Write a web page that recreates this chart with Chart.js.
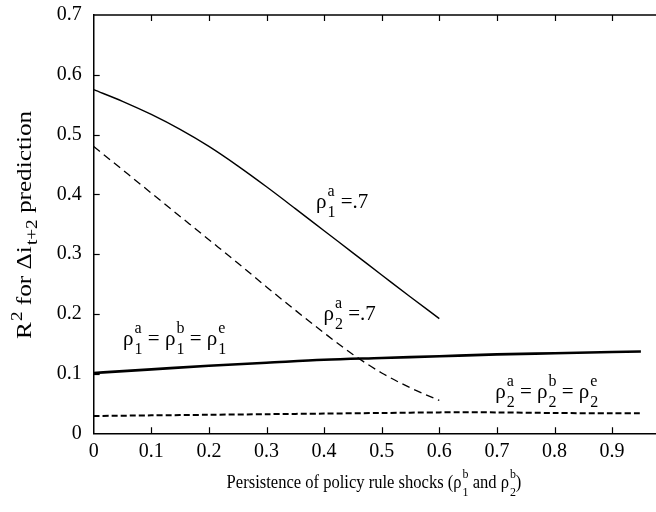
<!DOCTYPE html>
<html>
<head>
<meta charset="utf-8">
<script src="https://cdn.jsdelivr.net/npm/chart.js@4.4.0/dist/chart.umd.min.js"></script>
<style>
  html, body { margin: 0; padding: 0; background: #fff; overflow: hidden; }
  #wrap { width: 680px; height: 512px; }
</style>
</head>
<body>
<div id="wrap"><canvas id="chart" width="680" height="512"></canvas></div>
<script>
// --- data ---
const xShort = [0, 0.05, 0.1, 0.15, 0.2, 0.25, 0.3, 0.35, 0.4, 0.45, 0.5, 0.55, 0.6];
const rho1a7 = [0.575, 0.5555, 0.5335, 0.5085, 0.480, 0.4475, 0.4125, 0.376, 0.339, 0.302, 0.265, 0.228, 0.192];
const rho2a7 = [0.480, 0.441, 0.402, 0.363, 0.324, 0.285, 0.245, 0.206, 0.168, 0.132, 0.101, 0.076, 0.055];

const xLong = [0, 0.1, 0.2, 0.3, 0.4, 0.5, 0.6, 0.7, 0.8, 0.9, 0.95];
const rho1Equal = [0.101, 0.107, 0.113, 0.118, 0.123, 0.126, 0.129, 0.132, 0.134, 0.136, 0.137];
const rho2Equal = [0.029, 0.030, 0.031, 0.032, 0.033, 0.034, 0.035, 0.035, 0.034, 0.0335, 0.0335];

const xTickValues = [0, 0.1, 0.2, 0.3, 0.4, 0.5, 0.6, 0.7, 0.8, 0.9];
const yTickValues = [0, 0.1, 0.2, 0.3, 0.4, 0.5, 0.6, 0.7];

// curve labels: [base, superscript, subscript] pieces, anchored in data coords
const curveNotes = [
  { x: 0.386, y: 0.377, parts: [['ρ', 'a', '1'], [' =.7', '', '']] },
  { x: 0.399, y: 0.190, parts: [['ρ', 'a', '2'], [' =.7', '', '']] },
  { x: 0.051, y: 0.148, parts: [['ρ', 'a', '1'], [' = ', '', ''], ['ρ', 'b', '1'], [' = ', '', ''], ['ρ', 'e', '1']] },
  { x: 0.697, y: 0.059, parts: [['ρ', 'a', '2'], [' = ', '', ''], ['ρ', 'b', '2'], [' = ', '', ''], ['ρ', 'e', '2']] }
];

const FONT = '"Liberation Serif", "Times New Roman", serif';

const toPoints = (xs, ys) => xs.map((x, i) => ({ x: x, y: ys[i] }));

// draws text with stacked super/subscripts
function drawRich(ctx, parts, x, y, size, stacked) {
  const small = Math.round(size * 0.74);
  const supDy = stacked ? -size * 0.55 : -size * 0.42;
  const subDy = stacked ? size * 0.42 : size * 0.3;
  let cx = x;
  parts.forEach(p => {
    ctx.font = size + 'px ' + FONT;
    ctx.fillText(p[0], cx, y);
    cx += ctx.measureText(p[0]).width;
    ctx.font = small + 'px ' + FONT;
    let w = 0;
    if (p[1]) { ctx.fillText(p[1], cx + 1, y + supDy); w = Math.max(w, ctx.measureText(p[1]).width + 1); }
    if (p[2]) { ctx.fillText(p[2], cx + 1, y + subDy); w = Math.max(w, ctx.measureText(p[2]).width + 1); }
    cx += w;
  });
  return cx - x;
}

function richWidth(ctx, parts, size) {
  const small = Math.round(size * 0.74);
  let w = 0;
  parts.forEach(p => {
    ctx.font = size + 'px ' + FONT;
    w += ctx.measureText(p[0]).width;
    ctx.font = small + 'px ' + FONT;
    let s = 0;
    if (p[1]) s = Math.max(s, ctx.measureText(p[1]).width + 1);
    if (p[2]) s = Math.max(s, ctx.measureText(p[2]).width + 1);
    w += s;
  });
  return w;
}

// inner ticks, top frame, curve labels and axis titles
const decorations = {
  id: 'decorations',
  afterDraw(chart) {
    const ctx = chart.ctx;
    const ca = chart.chartArea;
    const xs = chart.scales.x, ys = chart.scales.y;
    ctx.save();
    ctx.strokeStyle = '#000';
    ctx.fillStyle = '#000';

    // top frame
    ctx.lineWidth = 1.5;
    ctx.beginPath();
    ctx.moveTo(ca.left, ca.top);
    ctx.lineTo(ca.right, ca.top);
    ctx.stroke();

    ctx.lineWidth = 1.2;
    xTickValues.forEach(v => {
      if (v === 0) return;
      const px = Math.round(xs.getPixelForValue(v)) + 0.5;
      ctx.beginPath();
      ctx.moveTo(px, ca.bottom); ctx.lineTo(px, ca.bottom - 6);
      ctx.moveTo(px, ca.top); ctx.lineTo(px, ca.top + 6);
      ctx.stroke();
    });
    yTickValues.forEach(v => {
      if (v === 0 || v === 0.7) return;
      const py = Math.round(ys.getPixelForValue(v)) + 0.5;
      ctx.beginPath();
      ctx.moveTo(ca.left, py); ctx.lineTo(ca.left + 6, py);
      ctx.stroke();
    });

    // curve labels
    ctx.textAlign = 'left';
    ctx.textBaseline = 'alphabetic';
    curveNotes.forEach(n => {
      drawRich(ctx, n.parts, xs.getPixelForValue(n.x), ys.getPixelForValue(n.y), 21, true);
    });

    // x-axis title (slightly condensed like the scan)
    const xTitle = [['Persistence of policy rule shocks (ρ', 'b', '1'], [' and ρ', 'b', '2'], [')', '', '']];
    const xw = richWidth(ctx, xTitle, 18) * 0.92;
    ctx.save();
    ctx.translate(374 - xw / 2, 488);
    ctx.scale(0.92, 1);
    drawRich(ctx, xTitle, 0, 0, 18, true);
    ctx.restore();

    // y-axis title (stretched along its length like the scan)
    const yTitle = [['R', '2', ''], [' for Δi', '', 't+2'], [' prediction', '', '']];
    ctx.save();
    ctx.translate(31, 225);
    ctx.rotate(-Math.PI / 2);
    ctx.scale(1.2, 1);
    const yw = richWidth(ctx, yTitle, 21);
    drawRich(ctx, yTitle, -yw / 2, 0, 21, false);
    ctx.restore();

    ctx.restore();
  }
};

const tickLabel = v => {
  const r = Math.round(v * 10) / 10;
  if (r > 0.9 + 1e-9) return '';
  return r === 0 ? '0' : r.toFixed(1);
};

new Chart(document.getElementById('chart'), {
  type: 'line',
  data: {
    datasets: [
      { data: toPoints(xShort, rho1a7), borderColor: '#000', borderWidth: 1.4, pointRadius: 0, cubicInterpolationMode: 'monotone', fill: false },
      { data: toPoints(xShort, rho2a7), borderColor: '#000', borderWidth: 1.3, borderDash: [8, 5], pointRadius: 0, cubicInterpolationMode: 'monotone', fill: false },
      { data: toPoints(xLong, rho1Equal), borderColor: '#000', borderWidth: 2.6, pointRadius: 0, cubicInterpolationMode: 'monotone', fill: false },
      { data: toPoints(xLong, rho2Equal), borderColor: '#000', borderWidth: 2, borderDash: [6, 3], pointRadius: 0, tension: 0.3, fill: false }
    ]
  },
  options: {
    responsive: false,
    animation: false,
    layout: { padding: { top: 15, right: 10.3, left: 0, bottom: 0 } },
    plugins: { legend: { display: false }, tooltip: { enabled: false } },
    scales: {
      x: {
        type: 'linear', min: 0, max: 1,
        afterFit: s => { s.height = 78.7; s.paddingLeft = 0; s.paddingRight = 0; },
        ticks: { stepSize: 0.1, padding: 6, color: '#000', font: { family: FONT, size: 20 }, callback: tickLabel, maxRotation: 0, autoSkip: false },
        grid: { display: true, drawOnChartArea: false, drawTicks: false },
        border: { display: true, color: '#000', width: 1.5 }
      },
      y: {
        type: 'linear', min: 0, max: 0.7,
        afterFit: s => { s.width = 93.7; s.paddingTop = 0; s.paddingBottom = 0; },
        ticks: { stepSize: 0.1, padding: 12, color: '#000', font: { family: FONT, size: 20 }, callback: tickLabel },
        grid: { display: true, drawOnChartArea: false, drawTicks: false },
        border: { display: true, color: '#000', width: 1.5 }
      }
    }
  },
  plugins: [decorations]
});
</script>
</body>
</html>
